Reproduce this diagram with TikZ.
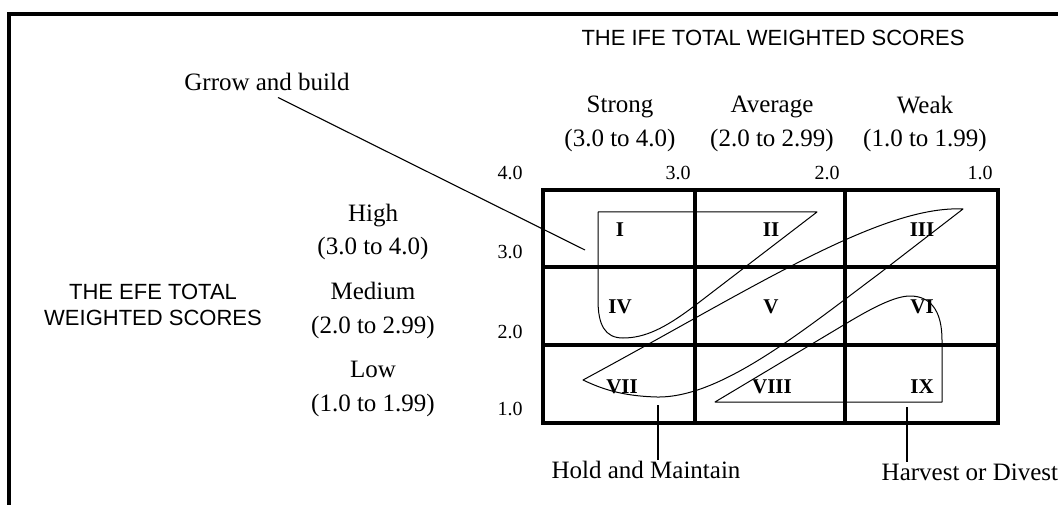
\documentclass[tikz,border=0pt]{standalone}
\usepackage{fontspec}
\setmainfont{Liberation Serif}
\newfontfamily\arialf{Liberation Sans}
\begin{document}
\begin{tikzpicture}[x=1pt,y=-1pt,
  serif/.style={font=\fontsize{25}{33.5}\selectfont, inner sep=1.5pt, align=center},
  sans/.style={font=\arialf\fontsize{22}{26}\selectfont, inner sep=1pt, align=center},
  axisnum/.style={font=\fontsize{20}{20}\selectfont, inner sep=1pt},
  roman/.style={font=\bfseries\fontsize{21}{21}\selectfont, inner sep=1pt},
  gridline/.style={line width=4pt, line join=miter, line cap=rect},
  framel/.style={line width=4pt},
  curve/.style={line width=1pt, line join=round},
  leader/.style={line width=1.1pt}]
\useasboundingbox (0,0) rectangle (1058,505);
% outer frame (top and left edges)
\draw[framel] (9,505) -- (9,14) -- (1058,14);
% grid
\coordinate (g00) at (543,190);
\coordinate (g33) at (998,423);
\draw[gridline] (g00) rectangle (g33);
\draw[gridline] (695,190) -- (695,423);
\draw[gridline] (845,190) -- (845,423);
\draw[gridline] (543,267) -- (998,267);
\draw[gridline] (543,345) -- (998,345);
% headers
\node[sans] (ife) at (773,38) {THE IFE TOTAL WEIGHTED SCORES};
\node[sans] (efe) at (153,305) {THE EFE TOTAL\\WEIGHTED SCORES};
\node[serif] (strong) at (620,124) {Strong\\(3.0 to 4.0)};
\node[serif] (average) at (772,124) {Average\\(2.0 to 2.99)};
\node[serif] (weak) at (925,124) {Weak\\(1.0 to 1.99)};
\node[serif] (high) at (373,232) {High\\(3.0 to 4.0)};
\node[serif] (medium) at (373,310.5) {Medium\\(2.0 to 2.99)};
\node[serif] (low) at (373,389) {Low\\(1.0 to 1.99)};
% axis numbers
\node[axisnum] (t4) at (510,173) {4.0};
\node[axisnum] (t3) at (678,173) {3.0};
\node[axisnum] (t2) at (827,173) {2.0};
\node[axisnum] (t1) at (980,173) {1.0};
\node[axisnum] (l3) at (510,252) {3.0};
\node[axisnum] (l2) at (510,332) {2.0};
\node[axisnum] (l1) at (510,409) {1.0};
% cell numerals
\node[roman] (c1) at (620,230) {I};
\node[roman] (c2) at (771,230) {II};
\node[roman] (c3) at (922,230) {III};
\node[roman] (c4) at (620,307) {IV};
\node[roman] (c5) at (771,307) {V};
\node[roman] (c6) at (922,307) {VI};
\node[roman] (c7) at (622,387) {VII};
\node[roman] (c8) at (772,387) {VIII};
\node[roman] (c9) at (922,387) {IX};
% Grow and build region
\draw[curve] (598,212) -- (817,212) -- (693,307)
  .. controls (665,328) and (645,338) .. (623,338)
  .. controls (605,338) and (598,325) .. (598,300) -- cycle;
% Hold and maintain region
\draw[curve] (583,380) .. controls (750,290) and (880,205) .. (963,209)
  -- (880,273) .. controls (800,333) and (720,398) .. (657,397)
  .. controls (620,396) and (600,388) .. (583,380) -- cycle;
% Harvest or divest region
\draw[curve] (715,402) -- (942,402) -- (942,340)
  .. controls (942,310) and (930,296) .. (910,296)
  .. controls (895,296) and (872,308) .. (847,323) -- cycle;
% labels and leaders
\node[serif] (grow) at (267,82) {Grrow and build};
\coordinate (growend) at (585,250);
\draw[leader] ([xshift=11pt,yshift=-5pt]grow.south) -- (growend);
\node[serif] (hold) at (646,470) {Hold and Maintain};
\coordinate (holdend) at (658,405);
\draw[leader] (holdend) -- (holdend |- hold.north);
\node[serif, anchor=west] (harvest) at (880,472) {Harvest or Divest};
\coordinate (harvend) at (907,407);
\draw[leader] (harvend) -- (harvend |- harvest.north);
\end{tikzpicture}
\end{document}
